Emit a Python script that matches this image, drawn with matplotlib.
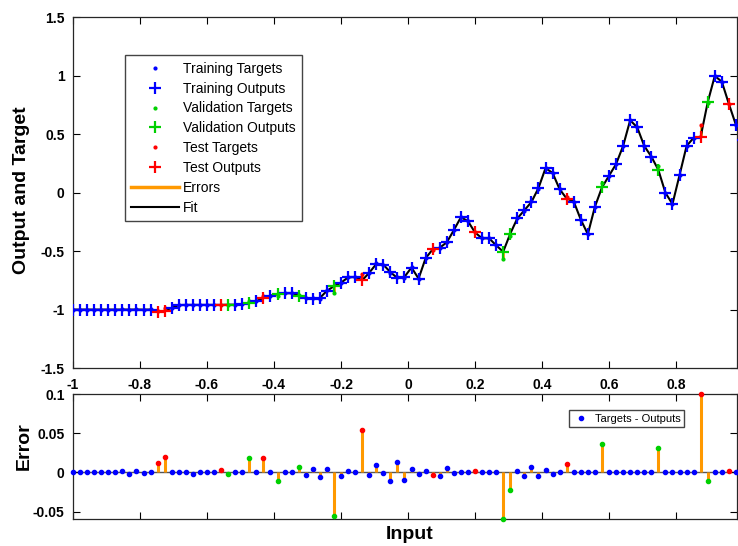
import numpy as np
import matplotlib
matplotlib.use('Agg')
import matplotlib.pyplot as plt
from matplotlib.lines import Line2D

plt.rcParams['font.family'] = ['Liberation Sans', 'DejaVu Sans']

# inputs (96 evenly spaced samples)
x = np.linspace(-1, 1, 96)

# network outputs read from the "+" markers
outputs = np.array([
    -1.0, -1.0, -1.0, -1.0, -1.0, -1.0, -1.0, -1.0, -1.0, -1.0,
    -1.0, -1.0, -1.02, -1.01, -0.985, -0.962, -0.96, -0.96, -0.96, -0.96,
    -0.96, -0.96, -0.958, -0.958, -0.955, -0.943, -0.928, -0.90, -0.88, -0.87,
    -0.86, -0.86, -0.88, -0.90, -0.91, -0.90, -0.84, -0.80, -0.77, -0.725,
    -0.72, -0.75, -0.685, -0.61, -0.615, -0.68, -0.73, -0.72, -0.64, -0.735,
    -0.56, -0.485, -0.47, -0.425, -0.32, -0.21, -0.243, -0.34, -0.39, -0.39,
    -0.45, -0.505, -0.35, -0.22, -0.15, -0.08, 0.04, 0.21, 0.17, 0.03,
    -0.05, -0.075, -0.23, -0.355, -0.12, 0.045, 0.145, 0.245, 0.40, 0.62,
    0.56, 0.40, 0.31, 0.195, 0.0, -0.097, 0.15, 0.40, 0.47, 0.48,
    0.775, 1.0, 0.95, 0.76, 0.58, 0.45])

# errors (targets - outputs)
errors = np.array([
    0, 0, 0, 0, 0, 0, 0, 0.002, -0.002, 0.002,
    -0.001, 0.001, 0.012, 0.020, 0, 0, 0.001, -0.002, 0.001, 0,
    0, 0.003, -0.002, 0, 0, 0.018, 0, 0.019, 0, -0.011,
    0, 0, 0.007, -0.003, 0.005, -0.006, 0.005, -0.055, -0.004, 0.002,
    0, 0.054, -0.003, 0.009, -0.001, -0.011, 0.013, -0.009, 0.005, -0.002,
    0.002, -0.003, -0.004, 0.006, -0.001, 0, 0.001, 0.002, 0, 0,
    0, -0.0594, -0.023, 0.002, -0.005, 0.007, -0.004, 0.003, -0.002, 0.001,
    0.011, 0, 0, 0, 0, 0.036, 0, 0, 0, 0,
    0, 0.001, 0, 0.031, 0, 0, 0, 0, 0, 0.1,
    -0.011, 0, 0, 0.002, 0, 0])

test_idx = [12, 13, 21, 27, 41, 51, 57, 70, 89, 93]
val_idx = [22, 25, 29, 32, 37, 61, 62, 75, 83, 90]
train_idx = [i for i in range(len(x)) if i not in test_idx + val_idx]

targets = outputs + errors

xticks = [-1, -0.8, -0.6, -0.4, -0.2, 0, 0.2, 0.4, 0.6, 0.8]
xticklabels = ['-1', '-0.8', '-0.6', '-0.4', '-0.2', '0', '0.2', '0.4', '0.6', '0.8']
yticks = [-1.5, -1, -0.5, 0, 0.5, 1, 1.5]
yticklabels = ['-1.5', '-1', '-0.5', '0', '0.5', '1', '1.5']
eticks = [-0.05, 0, 0.05, 0.1]
eticklabels = ['-0.05', '0', '0.05', '0.1']

BLUE, GREEN, RED = '#0000ff', '#00d000', '#ff0000'
ORANGE = '#ff9900'
sets = [(train_idx, BLUE), (val_idx, GREEN), (test_idx, RED)]

fig = plt.figure(figsize=(7.38, 5.46), dpi=100)
ax1 = fig.add_axes([0.0989, 0.326, 0.8997, 0.642])
ax2 = fig.add_axes([0.0989, 0.0495, 0.8997, 0.2285])

# --- top panel: fit
ax1.vlines(x, outputs, targets, color=ORANGE, lw=2, zorder=2)
ax1.plot(x, outputs, '-', color='black', lw=1.5, zorder=3)
for idx, c in sets:
    ax1.plot(x[idx], targets[idx], '.', color=c, ms=4, zorder=4)
    ax1.plot(x[idx], outputs[idx], '+', color=c, ms=9, mew=1.6, zorder=5)

ax1.set_xlim(-1, 0.982)
ax1.set_ylim(-1.5, 1.5)
ax1.set_xticks(xticks)
ax1.set_xticklabels(xticklabels)
ax1.set_yticks(yticks)
ax1.set_yticklabels(yticklabels)
ax1.set_ylabel('Output and Target', fontsize=14, fontweight='bold')
ax1.yaxis.set_label_coords(-0.065, 0.506)

handles = [
    Line2D([], [], ls='none', marker='.', ms=4, color=BLUE),
    Line2D([], [], ls='none', marker='+', ms=9, mew=1.6, color=BLUE),
    Line2D([], [], ls='none', marker='.', ms=4, color=GREEN),
    Line2D([], [], ls='none', marker='+', ms=9, mew=1.6, color=GREEN),
    Line2D([], [], ls='none', marker='.', ms=4, color=RED),
    Line2D([], [], ls='none', marker='+', ms=9, mew=1.6, color=RED),
    Line2D([], [], color=ORANGE, lw=2.5),
    Line2D([], [], color='black', lw=1.5),
]
labels = ['Training Targets', 'Training Outputs', 'Validation Targets',
          'Validation Outputs', 'Test Targets', 'Test Outputs', 'Errors', 'Fit']
leg = ax1.legend(handles, labels, loc='center', bbox_to_anchor=(0.2893, 0.747),
                 bbox_transform=fig.transFigure, fontsize=10, handlelength=3.4,
                 handletextpad=0.3, labelspacing=0.42, borderpad=0.45,
                 fancybox=False, framealpha=1, edgecolor='#444444')
leg.get_frame().set_linewidth(1)

# --- bottom panel: errors
ax2.axhline(0, color='#555555', lw=1, zorder=1)
ax2.vlines(x, 0, errors, color=ORANGE, lw=2.2, zorder=2)
for idx, c in sets:
    ax2.plot(x[idx], errors[idx], '.', color=c, ms=6, zorder=3, clip_on=False)

ax2.set_xlim(-1, 0.982)
ax2.set_ylim(errors.min(), errors.max())
ax2.set_xticks(xticks)
ax2.set_xticklabels([])
ax2.set_yticks(eticks)
ax2.set_yticklabels(eticklabels)
ax2.set_ylabel('Error', fontsize=14, fontweight='bold')
ax2.yaxis.set_label_coords(-0.06, 0.58)
ax2.set_xlabel('Input', fontsize=14, fontweight='bold')
ax2.xaxis.set_label_coords(0.507, -0.055)

leg2 = ax2.legend([Line2D([], [], ls='none', marker='.', ms=6, color=BLUE)],
                  ['Targets - Outputs'], loc='center',
                  bbox_to_anchor=(0.849, 0.2335), bbox_transform=fig.transFigure,
                  fontsize=8, handlelength=1.6, handletextpad=0.4, borderpad=0.35,
                  fancybox=False, framealpha=1, edgecolor='#444444')
leg2.get_frame().set_linewidth(1)

for ax in (ax1, ax2):
    ax.tick_params(direction='in', top=True, right=True, length=5, width=0.8,
                   labelsize=10, pad=6)
    for lbl in ax.get_xticklabels() + ax.get_yticklabels():
        lbl.set_fontweight('bold')
    for sp in ax.spines.values():
        sp.set_color('#262626')
        sp.set_linewidth(0.9)
ax1.tick_params(axis='x', pad=7)

fig.savefig('out.png', dpi=100)
